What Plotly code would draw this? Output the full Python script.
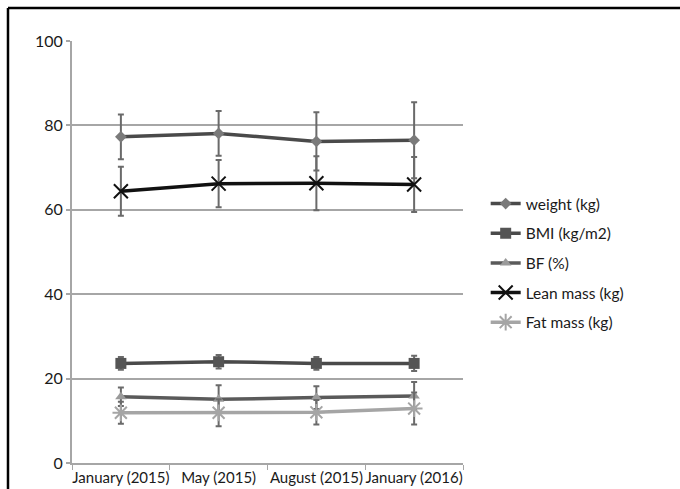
import plotly.graph_objects as go

categories = ["January (2015)", "May (2015)", "August (2015)", "January (2016)"]

weight = [77.3, 78.1, 76.2, 76.5]
weight_err = [5.3, 5.3, 6.9, 9.0]
bmi = [23.6, 24.0, 23.6, 23.6]
bmi_err = [1.5, 1.6, 1.5, 1.8]
bf = [15.7, 15.1, 15.5, 15.9]
bf_err = [2.2, 3.3, 2.7, 3.3]
lean = [64.4, 66.2, 66.3, 66.0]
lean_err = [5.8, 5.6, 6.4, 6.5]
fat = [11.9, 11.9, 12.0, 12.9]
fat_err = [2.6, 3.2, 2.9, 3.8]

y_ticks = [0, 20, 40, 60, 80, 100]

series = [
    ("weight (kg)", weight, weight_err, "#4a4a4a", dict(symbol="diamond", size=9, color="#7a7a7a")),
    ("BMI (kg/m2)", bmi, bmi_err, "#4a4a4a", dict(symbol="square", size=11, color="#555555")),
    ("BF (%)", bf, bf_err, "#5a5a5a", dict(symbol="triangle-up", size=10, color="#9a9a9a")),
    ("Lean mass (kg)", lean, lean_err, "#111111", dict(symbol="x-thin-open", size=14, color="#111111", line=dict(width=2, color="#111111"))),
    ("Fat mass (kg)", fat, fat_err, "#a5a5a5", dict(symbol="asterisk-open", size=14, color="#a5a5a5", line=dict(width=2, color="#a5a5a5"))),
]

fig = go.Figure()
for i, (name, vals, err, lc, mk) in enumerate(series):
    fig.add_trace(go.Scatter(
        x=categories, y=vals, name=name, mode="lines+markers",
        line=dict(color=lc, width=3.5),
        marker=mk,
        legendgroup=f"g{i}",
        error_y=dict(type="data", array=err, visible=True, color="#6a6a6a", thickness=2, width=3),
    ))

fig.update_layout(
    width=680, height=489,
    margin=dict(l=72, r=217, t=41, b=26),
    paper_bgcolor="white", plot_bgcolor="white",
    font=dict(family="Lato", size=16, color="#1a1a1a"),
    showlegend=True,
    legend=dict(x=1.058, y=0.654, xanchor="left", yanchor="top",
                font=dict(size=15.5, color="#1a1a1a"), tracegroupgap=6.5,
                bgcolor="rgba(0,0,0,0)"),
    xaxis=dict(type="category", showgrid=False, showline=True, linecolor="#a6a6a6", linewidth=2,
               ticks="outside", tickson="boundaries", ticklen=5, tickcolor="#a6a6a6", tickwidth=1,
               range=[-0.5, 3.5], fixedrange=True, tickangle=0, automargin=False,
               tickfont=dict(size=15)),
    yaxis=dict(range=[0, 100], tickvals=y_ticks, showgrid=True, gridcolor="#a6a6a6", gridwidth=2,
               showline=True, linecolor="#a6a6a6", linewidth=2, ticks="outside", ticklen=4,
               tickcolor="#a6a6a6", tickwidth=2, zeroline=False, automargin=False, fixedrange=True),
    shapes=[
        dict(type="line", xref="paper", yref="paper", x0=-0.1637, x1=1.6, y0=1.078, y1=1.078,
             line=dict(color="black", width=2.5)),
        dict(type="line", xref="paper", yref="paper", x0=-0.1637, x1=-0.1637, y0=1.078, y1=-0.1,
             line=dict(color="black", width=2.5)),
    ],
)

fig.write_html("out.html", config={"displayModeBar": False},
               post_script="document.body.style.margin='0';document.body.style.padding='0';")
